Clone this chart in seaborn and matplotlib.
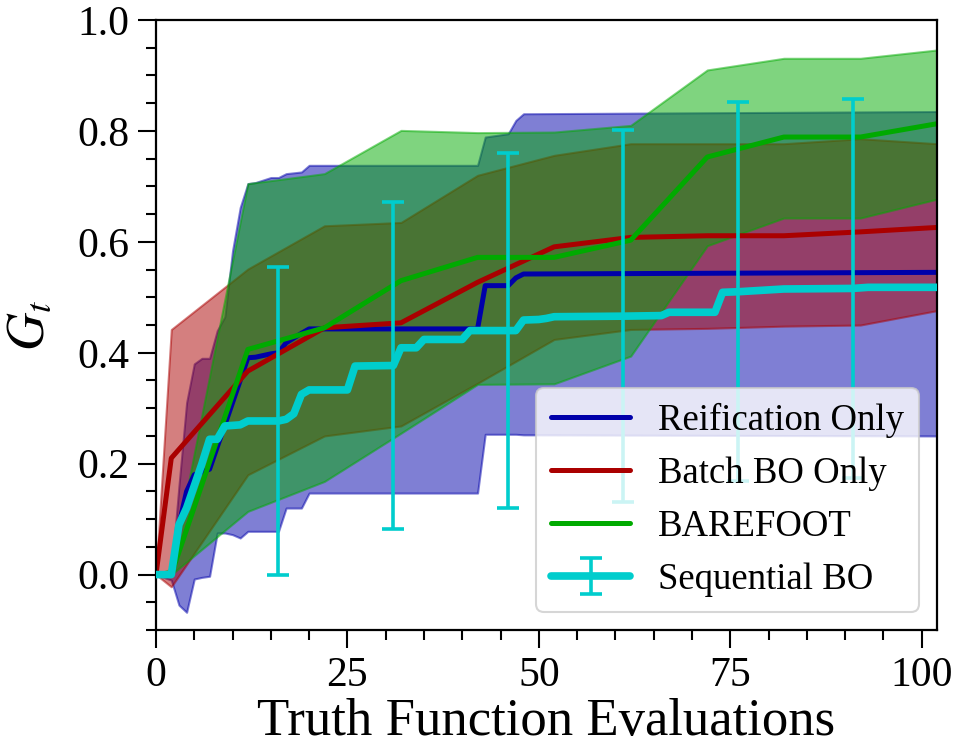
import numpy as np
import matplotlib
matplotlib.use("Agg")
import matplotlib.pyplot as plt
from matplotlib.ticker import MultipleLocator
import seaborn as sns

# ---- Reification Only: mean with lower / upper band ----
reif_x = [0, 2, 3, 4, 5, 6, 7, 8, 9, 10, 11, 12, 13, 15, 16, 17, 19, 20,
          42, 43, 46, 47, 48, 102]
reif_mean = [0.0, 0.0, 0.09, 0.15, 0.18, 0.185, 0.19, 0.23, 0.27, 0.31, 0.35,
             0.391, 0.392, 0.398, 0.40, 0.418, 0.435, 0.443,
             0.443, 0.521, 0.521, 0.535, 0.542, 0.545]
reif_lo = [0.0, -0.01, -0.055, -0.068, -0.008, -0.005, -0.003, 0.075, 0.075,
           0.072, 0.066, 0.078, 0.078, 0.078, 0.078, 0.12, 0.12, 0.147,
           0.147, 0.253, 0.253, 0.253, 0.252, 0.25]
reif_hi = [0.0, 0.0, 0.16, 0.31, 0.38, 0.39, 0.39, 0.44, 0.465, 0.584, 0.662,
           0.705, 0.707, 0.716, 0.716, 0.723, 0.726, 0.738,
           0.738, 0.789, 0.795, 0.819, 0.831, 0.835]

# ---- Batch BO Only ----
batch_x = [0, 2, 12, 22, 32, 42, 52, 62, 72, 82, 92, 102]
batch_mean = [0.0, 0.21, 0.367, 0.445, 0.454, 0.527, 0.591, 0.608, 0.611,
              0.611, 0.618, 0.626]
batch_lo = [0.0, -0.022, 0.18, 0.25, 0.268, 0.345, 0.424, 0.442, 0.444,
            0.448, 0.45, 0.476]
batch_hi = [0.0, 0.442, 0.551, 0.629, 0.635, 0.72, 0.756, 0.777, 0.777,
            0.777, 0.786, 0.777]

# ---- BAREFOOT ----
bf_x = [0, 2, 12, 22, 32, 42, 52, 62, 72, 82, 92, 102]
bf_mean = [0.0, 0.0, 0.406, 0.445, 0.53, 0.572, 0.572, 0.603, 0.753, 0.789,
           0.789, 0.813]
bf_lo = [0.0, 0.0, 0.114, 0.168, 0.255, 0.343, 0.344, 0.394, 0.593, 0.643,
         0.643, 0.677]
bf_hi = [0.0, 0.01, 0.705, 0.723, 0.801, 0.797, 0.798, 0.81, 0.91, 0.931,
         0.931, 0.946]

# ---- Sequential BO: mean curve plus error bars every 15 evaluations ----
seq_x = [0, 2, 3, 4, 5, 6, 7, 8, 9, 11, 12, 16, 17, 18, 19, 20, 25, 26, 31,
         32, 34, 35, 40, 41, 46, 47, 48, 50, 51, 52, 61, 66, 67, 73, 74, 76,
         82, 91, 93, 102]
seq_mean = [0.0, 0.0, 0.09, 0.12, 0.16, 0.20, 0.244, 0.244, 0.268, 0.27,
            0.277, 0.277, 0.28, 0.29, 0.325, 0.333, 0.333, 0.376, 0.377,
            0.409, 0.409, 0.424, 0.424, 0.44, 0.44, 0.44, 0.459, 0.46, 0.462,
            0.465, 0.466, 0.467, 0.473, 0.473, 0.509, 0.51,
            0.515, 0.516, 0.518, 0.518]
seq_err_x = [16, 31, 46, 61, 76, 91]
seq_err = [0.278, 0.294, 0.32, 0.335, 0.342, 0.341]

labels = ["Reification Only", "Batch BO Only", "BAREFOOT", "Sequential BO"]
BLUE, RED, GREEN, CYAN = "#0000AA", "#AA0000", "#00AA00", "#00CDCD"

sns.set_theme(style="ticks")
plt.rcParams["font.family"] = ["Liberation Serif", "DejaVu Serif"]
plt.rcParams["mathtext.fontset"] = "stix"
for key in ["text.color", "axes.labelcolor", "xtick.color", "ytick.color",
            "axes.edgecolor"]:
    plt.rcParams[key] = "black"

fig = plt.figure(figsize=(9.61, 7.53), dpi=100)
ax = fig.add_axes([0.1623, 0.1633, 0.8127, 0.8101])

# bands (blue, then red, then green on top)
for xs, lo, hi, col in [(reif_x, reif_lo, reif_hi, BLUE),
                        (batch_x, batch_lo, batch_hi, RED),
                        (bf_x, bf_lo, bf_hi, GREEN)]:
    ax.fill_between(xs, lo, hi, facecolor=col, edgecolor=col,
                    alpha=0.5, linewidth=1.5)

# mean curves
handles = []
for xs, ys, col, lab in [(reif_x, reif_mean, BLUE, labels[0]),
                         (batch_x, batch_mean, RED, labels[1]),
                         (bf_x, bf_mean, GREEN, labels[2])]:
    sns.lineplot(x=xs, y=ys, color=col, linewidth=3.6, ax=ax,
                 estimator=None, sort=False, legend=False)
    handles.append(ax.lines[-1])
    handles[-1].set_label(lab)

yerr = np.zeros(len(seq_x))
idx = [seq_x.index(v) for v in seq_err_x]
yerr[idx] = seq_err
eb = ax.errorbar(seq_x, seq_mean, yerr=yerr, errorevery=idx, color=CYAN,
                 linewidth=5.5, elinewidth=2.6, capsize=8, capthick=2.6,
                 label=labels[3], zorder=5)
handles.append(eb)

ax.set_xlim(0, 102)
ax.set_ylim(-0.1, 1.0)
ax.xaxis.set_major_locator(MultipleLocator(25))
ax.xaxis.set_minor_locator(MultipleLocator(5))
ax.yaxis.set_minor_locator(MultipleLocator(0.05))
ax.set_yticks([0.0, 0.2, 0.4, 0.6, 0.8, 1.0])
ax.set_yticklabels(["0.0", "0.2", "0.4", "0.6", "0.8", "1.0"])
ax.tick_params(which="major", direction="out", length=13, width=1.5,
               labelsize=30, pad=6)
ax.tick_params(which="minor", direction="out", length=7, width=1.5)
for sp in ax.spines.values():
    sp.set_visible(True)
    sp.set_linewidth(1.6)

ax.set_xlabel("Truth Function Evaluations", fontsize=38, labelpad=2)
ax.set_ylabel("$G_t$", fontsize=38, labelpad=16)

leg = ax.legend(handles=handles, labels=labels, loc="lower right",
                fontsize=26.5, frameon=True, framealpha=0.8, fancybox=True,
                edgecolor="0.8", handlelength=2.15, handletextpad=0.75,
                labelspacing=0.5, borderaxespad=0.5)
leg.get_frame().set_linewidth(1.5)

fig.savefig("out.png", dpi=100)
